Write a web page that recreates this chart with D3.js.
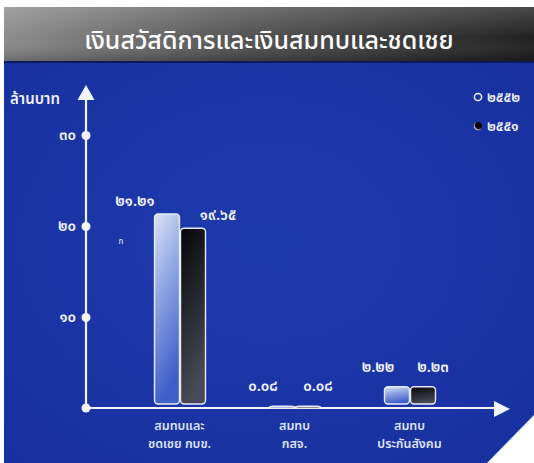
<!DOCTYPE html>
<html>
<head>
<meta charset="utf-8">
<script src="https://cdn.jsdelivr.net/npm/d3@7/dist/d3.min.js"></script>
<style>
  html, body { margin: 0; padding: 0; background: #ffffff; }
  svg { display: block; }
  text { font-family: "Noto Sans Thai", "Loma", "Garuda", "Norasi", "Tlwg Typo", "DejaVu Sans", sans-serif; }
</style>
</head>
<body>
<div id="chart"></div>
<script>
// Welfare and contribution payments, million baht
const title = "เงินสวัสดิการและเงินสมทบและชดเชย";
const yAxisTitle = "ล้านบาท";
const categories = [
  ["สมทบและ", "ชดเชย กบข."],
  ["สมทบ", "กสจ."],
  ["สมทบ", "ประกันสังคม"]
];
const seriesNames = ["๒๕๕๒", "๒๕๕๑"];
const values2552 = [21.21, 0.08, 2.22];
const values2551 = [19.65, 0.08, 2.23];
const valueLabels2552 = ["๒๑.๒๑", "๐.๐๘", "๒.๒๒"];
const valueLabels2551 = ["๑๙.๖๕", "๐.๐๘", "๒.๒๓"];
const yTicks = [10, 20, 30];
const yTickLabels = ["๑๐", "๒๐", "๓๐"];

const W = 534, H = 463;
const svg = d3.select("#chart").append("svg").attr("width", W).attr("height", H);
const defs = svg.append("defs");

// header band gradient: grey on the left fading to near-black on the right
const hg = defs.append("linearGradient").attr("id", "hdr").attr("x1", 0).attr("y1", 0).attr("x2", 1).attr("y2", 0);
hg.append("stop").attr("offset", 0).attr("stop-color", "#868686");
hg.append("stop").attr("offset", 0.45).attr("stop-color", "#4a4a4a");
hg.append("stop").attr("offset", 1).attr("stop-color", "#161616");
const hv = defs.append("linearGradient").attr("id", "hdrShine").attr("x1", 0).attr("y1", 0).attr("x2", 0).attr("y2", 1);
hv.append("stop").attr("offset", 0).attr("stop-color", "#ffffff").attr("stop-opacity", 0.22);
hv.append("stop").attr("offset", 0.55).attr("stop-color", "#ffffff").attr("stop-opacity", 0.05);
hv.append("stop").attr("offset", 1).attr("stop-color", "#000000").attr("stop-opacity", 0.25);

const bg = defs.append("radialGradient").attr("id", "panel").attr("cx", 0.5).attr("cy", 0.45).attr("r", 0.75);
bg.append("stop").attr("offset", 0).attr("stop-color", "#1d3aad");
bg.append("stop").attr("offset", 1).attr("stop-color", "#18309f");

const gLight = defs.append("linearGradient").attr("id", "barLight").attr("x1", 0).attr("y1", 0).attr("x2", 0.25).attr("y2", 1);
gLight.append("stop").attr("offset", 0).attr("stop-color", "#d9e2f6");
gLight.append("stop").attr("offset", 0.45).attr("stop-color", "#8ea4e2");
gLight.append("stop").attr("offset", 1).attr("stop-color", "#3f5fcb");
const gDark = defs.append("linearGradient").attr("id", "barDark").attr("x1", 0).attr("y1", 0).attr("x2", 0.25).attr("y2", 1);
gDark.append("stop").attr("offset", 0).attr("stop-color", "#050508");
gDark.append("stop").attr("offset", 0.5).attr("stop-color", "#26262e");
gDark.append("stop").attr("offset", 1).attr("stop-color", "#4a4a56");
const gDot = defs.append("radialGradient").attr("id", "dotDark").attr("cx", 0.6).attr("cy", 0.4).attr("r", 0.6);
gDot.append("stop").attr("offset", 0).attr("stop-color", "#000");
gDot.append("stop").attr("offset", 0.7).attr("stop-color", "#111");
gDot.append("stop").attr("offset", 1).attr("stop-color", "#ddd");

// panel
svg.append("rect").attr("x", 4).attr("y", 62).attr("width", W - 4).attr("height", H - 62).attr("fill", "url(#panel)");
svg.append("rect").attr("x", 4).attr("y", 7).attr("width", W - 4).attr("height", 56).attr("fill", "url(#hdr)");
svg.append("rect").attr("x", 4).attr("y", 7).attr("width", W - 4).attr("height", 56).attr("fill", "url(#hdrShine)");
svg.append("rect").attr("x", 4).attr("y", 61).attr("width", W - 4).attr("height", 2).attr("fill", "#0d1a5e");
// cut corner at bottom right
svg.append("path").attr("d", `M487,${H} L${W},415 L${W},${H} Z`).attr("fill", "#ffffff");

svg.append("text").attr("x", 269).attr("y", 49).attr("text-anchor", "middle")
  .attr("fill", "#ffffff").attr("font-size", 25).attr("font-weight", 500).text(title);

// scales
const x0 = 86, y0 = 408;
const y = d3.scaleLinear().domain([0, 30]).range([y0, 135]);
const xg = d3.scaleBand().domain(d3.range(categories.length)).range([122, 467]).padding(0);
const xs = d3.scaleBand().domain(seriesNames).range([-25, 26]).paddingInner(0.04);

const white = "#f2f4fb";

// y axis
const axY = svg.append("g").attr("transform", `translate(${x0},0)`)
  .call(d3.axisLeft(y).tickValues(yTicks).tickFormat((d, i) => yTickLabels[i]).tickSize(0).tickPadding(10));
axY.select(".domain").remove();
axY.selectAll("text").attr("fill", white).attr("font-size", 15).attr("font-weight", 600).attr("font-family", null);
svg.append("line").attr("x1", x0).attr("x2", x0).attr("y1", y0).attr("y2", 98).attr("stroke", white).attr("stroke-width", 2.2);
svg.append("path").attr("d", `M${x0},85 L${x0 - 8.5},100 L${x0 + 8.5},100 Z`).attr("fill", white);
axY.selectAll(".tick").append("circle").attr("r", 4.5).attr("fill", white);
svg.append("circle").attr("cx", x0).attr("cy", y0).attr("r", 4.5).attr("fill", white);
svg.append("text").attr("x", 10).attr("y", 104).attr("fill", white).attr("font-size", 15).attr("font-weight", 600).text(yAxisTitle);

// x axis
svg.append("line").attr("x1", x0).attr("x2", 496).attr("y1", y0).attr("y2", y0).attr("stroke", white).attr("stroke-width", 2.2);
svg.append("path").attr("d", `M510,${y0 + 1} L494,${y0 - 7} L494,${y0 + 9} Z`).attr("fill", white);

// bars and value labels
const series = [
  { name: seriesNames[0], values: values2552, labels: valueLabels2552, fill: "url(#barLight)", dx: -19, dxFirst: -13 },
  { name: seriesNames[1], values: values2551, labels: valueLabels2551, fill: "url(#barDark)", dx: 10, dxFirst: 15 }
];
series.forEach(s => {
  const g = svg.append("g");
  const cx = i => xg(i) + xg.bandwidth() / 2 + xs(s.name) + xs.bandwidth() / 2;
  g.selectAll("rect").data(s.values).join("rect")
    .attr("x", (d, i) => cx(i) - xs.bandwidth() / 2)
    .attr("y", d => y(d) - 1)
    .attr("width", xs.bandwidth())
    .attr("height", d => Math.max(2, y0 - 3 - y(d)))
    .attr("rx", 3.5)
    .attr("fill", s.fill)
    .attr("stroke", "#e8ecf8").attr("stroke-width", 1.4);
  g.selectAll("text").data(s.values).join("text")
    .attr("x", (d, i) => cx(i) + s.dx + (i === 0 ? s.dxFirst : 0))
    .attr("y", (d, i) => y(d) - (i === 0 ? 9 : 16))
    .attr("text-anchor", "middle").attr("fill", white).attr("font-size", 15).attr("font-weight", 600)
    .text((d, i) => s.labels[i]);
});
svg.append("text").attr("x", 121).attr("y", 244).attr("text-anchor", "middle").attr("fill", white).attr("font-size", 8).text("ก");

// category labels, one text per line
categories.forEach((lines, i) => {
  lines.forEach((ln, k) => svg.append("text")
    .attr("x", xg(i) + xg.bandwidth() / 2).attr("y", 430 + k * 18)
    .attr("text-anchor", "middle").attr("fill", "#dfe5f7").attr("font-size", 12.5).attr("font-weight", 600)
    .text(ln));
});

// legend
const lg = svg.append("g").attr("transform", "translate(478,97)");
lg.append("circle").attr("r", 3.6).attr("fill", "none").attr("stroke", white).attr("stroke-width", 1.5);
lg.append("text").attr("x", 9).attr("y", 5).attr("fill", white).attr("font-size", 14).attr("font-weight", 600).text(seriesNames[0]);
lg.append("circle").attr("cy", 29).attr("r", 4.2).attr("fill", "url(#dotDark)");
lg.append("text").attr("x", 9).attr("y", 34).attr("fill", white).attr("font-size", 14).attr("font-weight", 600).text(seriesNames[1]);
</script>
</body>
</html>
